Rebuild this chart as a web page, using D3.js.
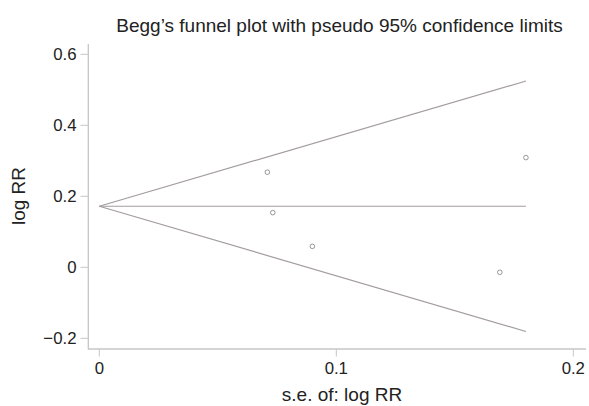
<!DOCTYPE html>
<html><head><meta charset="utf-8">
<script src="https://cdn.jsdelivr.net/npm/d3@7"></script>
<style>
html,body{margin:0;padding:0;background:#fff;}
svg text{font-family:"Liberation Sans",Arial,Helvetica,sans-serif;fill:#222;}
</style></head>
<body><svg id="c" width="589" height="406"></svg>
<script>
// Data
const studySE = [0.0709, 0.0732, 0.0899, 0.169, 0.180];
const studyLogRR = [0.268, 0.154, 0.059, -0.014, 0.309];
const pooledLogRR = 0.172;
const maxSE = 0.180;
const xTicks = [0, 0.1, 0.2];
const yTicks = [-0.2, 0, 0.2, 0.4, 0.6];
const titleText = "Begg\u2019s funnel plot with pseudo 95% confidence limits";
const xLabel = "s.e. of: log RR";
const yLabel = "log RR";

const svg = d3.select("#c");
const x = d3.scaleLinear().domain([0, 0.2]).range([99.3, 573.3]);
const y = d3.scaleLinear().domain([-0.2, 0.6]).range([338.3, 54.3]);
const axisColor = "#c9c5c7";
const lineColor = "#a39ca0";

// axis lines
svg.append("line").attr("x1", 88.3).attr("x2", 88.3).attr("y1", 44).attr("y2", 349.5)
  .attr("stroke", axisColor).attr("stroke-width", 1.3);
svg.append("line").attr("x1", 88.3).attr("x2", 586).attr("y1", 349).attr("y2", 349)
  .attr("stroke", axisColor).attr("stroke-width", 1.3);

// y ticks
const yt = svg.append("g");
yTicks.forEach(t => {
  yt.append("line").attr("x1", 80.5).attr("x2", 88.3).attr("y1", y(t)).attr("y2", y(t))
    .attr("stroke", axisColor).attr("stroke-width", 1);
  yt.append("text").attr("x", 76.5).attr("y", y(t)).attr("dy", "0.36em")
    .attr("text-anchor", "end").style("font-size", "16.8px")
    .text(t === 0 ? "0" : (t < 0 ? "\u2212" + Math.abs(t) : String(t)));
});
// x ticks
const xt = svg.append("g");
xTicks.forEach(t => {
  xt.append("line").attr("x1", x(t)).attr("x2", x(t)).attr("y1", 349).attr("y2", 356.5)
    .attr("stroke", axisColor).attr("stroke-width", 1);
  xt.append("text").attr("x", x(t)).attr("y", 374).attr("text-anchor", "middle")
    .style("font-size", "16.8px").text(String(t));
});

// funnel lines
const z = 1.96;
const line = d3.line().x(d => x(d[0])).y(d => y(d[1]));
svg.append("path").attr("d", line([[0, pooledLogRR], [maxSE, pooledLogRR + z * maxSE]]))
  .attr("fill", "none").attr("stroke", lineColor).attr("stroke-width", 1.2);
svg.append("path").attr("d", line([[0, pooledLogRR], [maxSE, pooledLogRR - z * maxSE]]))
  .attr("fill", "none").attr("stroke", lineColor).attr("stroke-width", 1.2);
svg.append("path").attr("d", line([[0, pooledLogRR], [maxSE, pooledLogRR]]))
  .attr("fill", "none").attr("stroke", lineColor).attr("stroke-width", 1.2);

// points
svg.append("g").selectAll("circle").data(studySE.map((s, i) => [s, studyLogRR[i]]))
  .join("circle").attr("cx", d => x(d[0])).attr("cy", d => y(d[1])).attr("r", 2.3)
  .attr("fill", "none").attr("stroke", "#8f888c").attr("stroke-width", 0.9);

// labels
svg.append("text").attr("x", 339.5).attr("y", 31.5).attr("text-anchor", "middle")
  .style("font-size", "19px").text(titleText);
svg.append("text").attr("x", 342).attr("y", 401).attr("text-anchor", "middle")
  .style("font-size", "19px").text(xLabel);
svg.append("text").attr("transform", "translate(25,196) rotate(-90)").attr("text-anchor", "middle")
  .style("font-size", "19px").text(yLabel);
</script></body></html>
